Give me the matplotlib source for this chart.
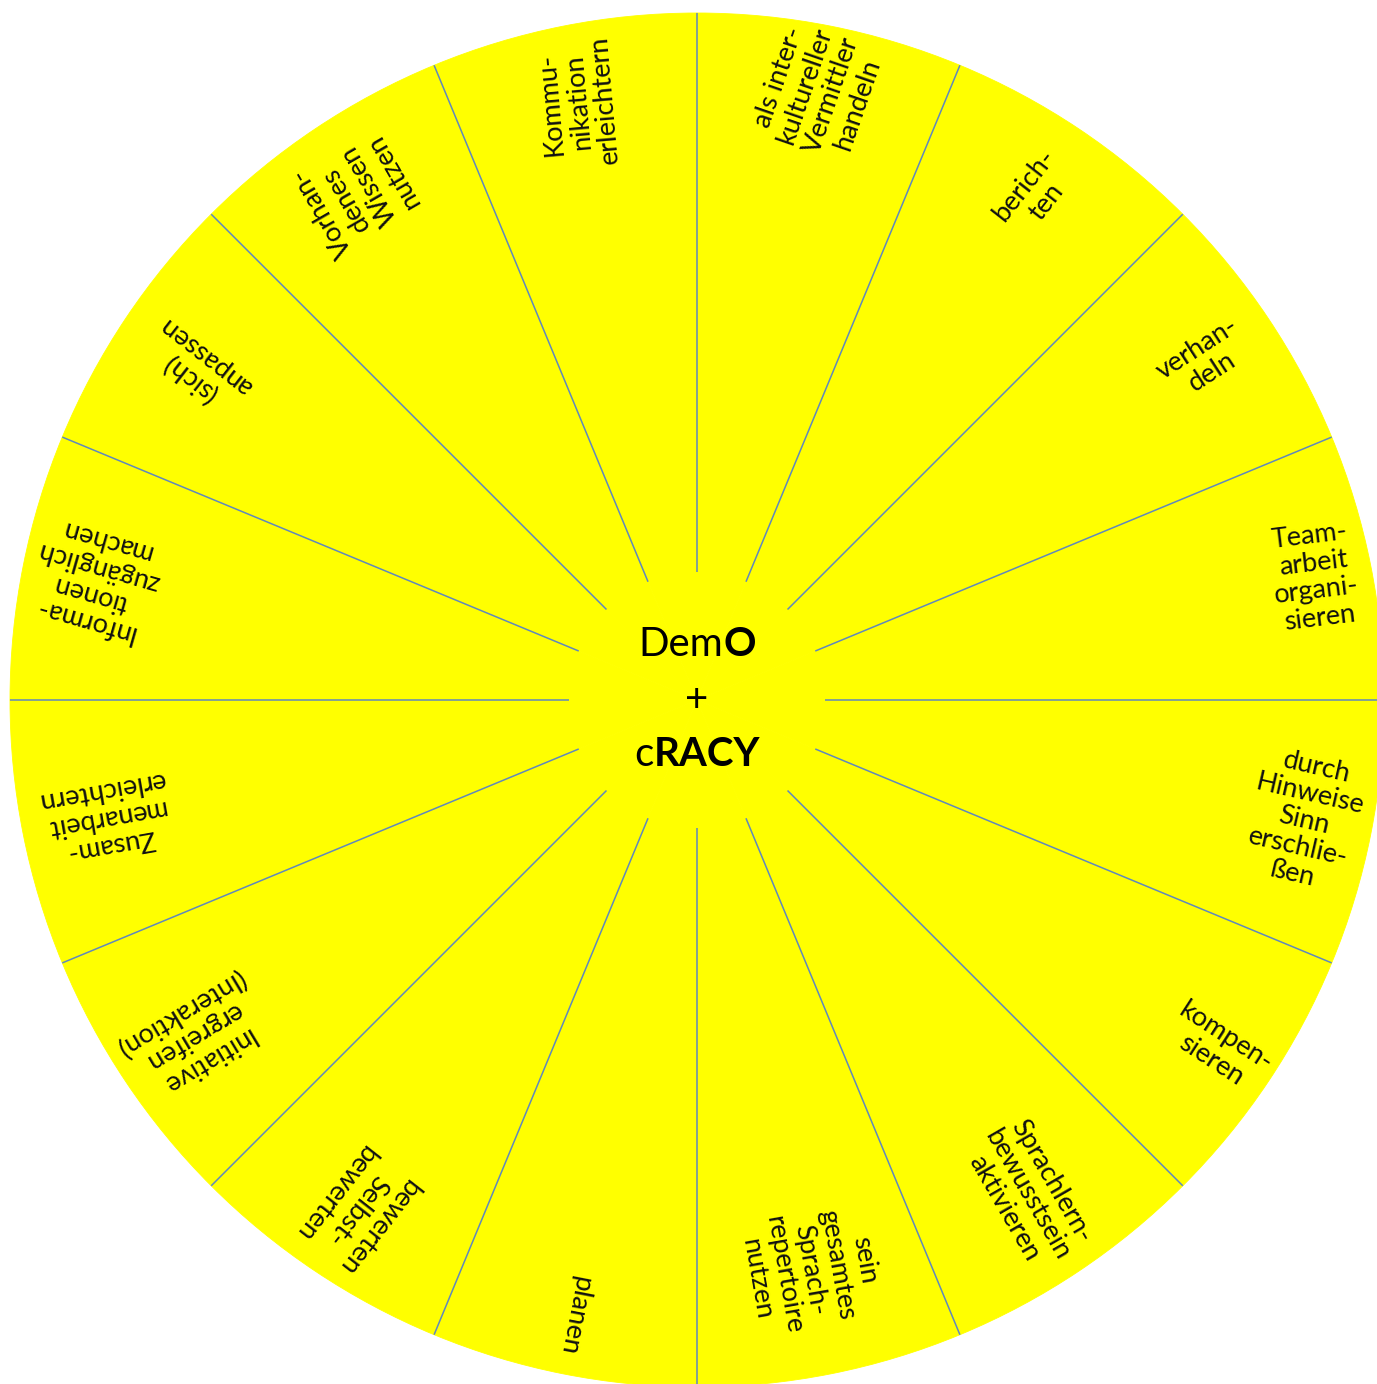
import numpy as np
import matplotlib.pyplot as plt

plt.rcParams['font.family'] = ['Lato', 'DejaVu Sans']

# 16 gleich große Segmente, im Uhrzeigersinn ab 12 Uhr
labels = [
    "als inter-\nkultureller\nVermittler\nhandeln",
    "berich-\nten",
    "verhan-\ndeln",
    "Team-\narbeit\norgani-\nsieren",
    "durch\nHinweise\nSinn\nerschlie-\nßen",
    "kompen-\nsieren",
    "Sprachlern-\nbewusstsein\naktivieren",
    "sein\ngesamtes\nSprach-\nrepertoire\nnutzen",
    "planen",
    "bewerten\nSelbst-\nbewerten",
    "Initiative\nergreifen\n(Interaktion)",
    "Zusam-\nmenarbeit\nerleichtern",
    "Informa-\ntionen\nzugänglich\nmachen",
    "(sich)\nanpassen",
    "Vorhan-\ndenes\nWissen\nnutzen",
    "Kommu-\nnikation\nerleichtern",
]
weights = [1] * len(labels)

# Mitte: (Text, fett?)
center_lines = [
    [("Dem", False), ("O", True)],
    [("+", False)],
    [("c", False), ("RACY", True)],
]

# Layout (Pixel, Grad)
R = 687
r_inner = 128
label_r = [621, 609, 611, 630, 619, 627, 595, 581, 628, 613, 606, 603, 614, 600, 611, 610]
label_rot = [71, 52, 33, 7, -13, -33, -60, -80, -101, 232, 211, 190, 164, 142, 120, 95]
yellow = '#ffff00'
line_col = '#6088bd'

fig = plt.figure(figsize=(13.77, 13.84), dpi=100)
ax = fig.add_axes([0, 0, 1, 1])

ax.pie(weights, radius=R, startangle=90, counterclock=False,
       colors=[yellow] * len(weights),
       wedgeprops=dict(edgecolor=yellow, linewidth=0.6))

n = len(weights)
step = 360 / n
for i in range(n):
    a = np.deg2rad(90 - step * i)
    ax.plot([r_inner * np.cos(a), R * np.cos(a)],
            [r_inner * np.sin(a), R * np.sin(a)],
            color=line_col, lw=1.1, solid_capstyle='butt')

for k, lab in enumerate(labels):
    a = np.deg2rad(90 - step * (k + 0.5))
    ax.text(label_r[k] * np.cos(a), label_r[k] * np.sin(a), lab,
            rotation=label_rot[k], rotation_mode='anchor',
            ha='center', va='center', multialignment='center',
            fontsize=19.5, linespacing=1.12, color='#111111')

ax.set_xlim(-697, 680)
ax.set_ylim(-684, 700)
ax.set_aspect('equal')
ax.axis('off')

# Mittelbeschriftung mit teilweise fetter Schrift
renderer = fig.canvas.get_renderer()
for j, parts in enumerate(center_lines):
    y = 55 - 55 * j
    texts = []
    for s, bold in parts:
        t = ax.text(0, y, s, ha='left', va='center', fontsize=29,
                    fontweight='bold' if bold else 'normal', color='black')
        texts.append(t)
    widths = [t.get_window_extent(renderer=renderer).width for t in texts]
    x = -sum(widths) / 2
    for t, w in zip(texts, widths):
        t.set_x(x)
        x += w

fig.savefig('out.png', dpi=100, facecolor='white')
